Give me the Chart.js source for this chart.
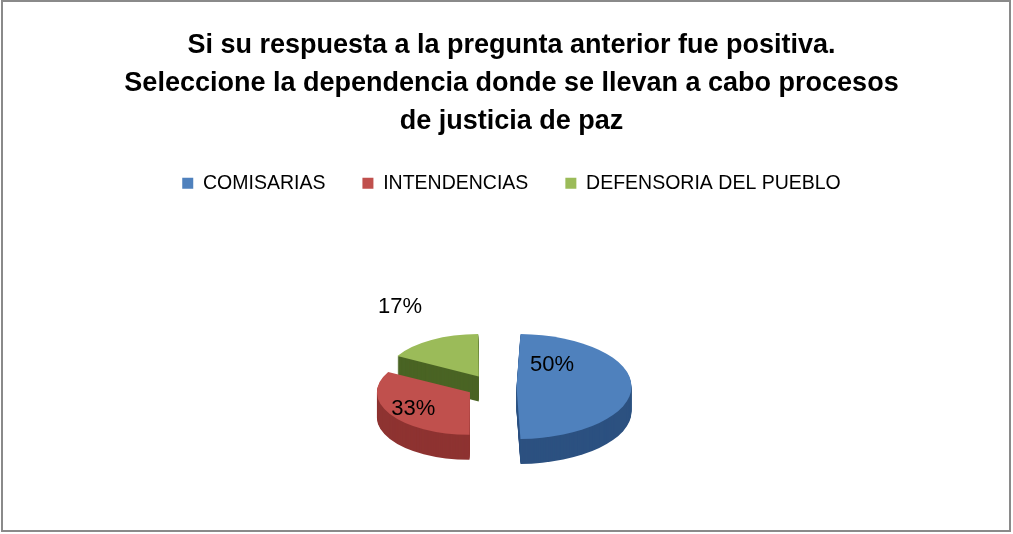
<!DOCTYPE html>
<html>
<head>
<meta charset="utf-8">
<script src="https://cdn.jsdelivr.net/npm/chart.js@4"></script>
<style>
  html, body { margin: 0; padding: 0; background: #fff; }
  #wrap { position: relative; width: 1013px; height: 534px; }
  #frame { position: absolute; left: 1px; top: 0px; width: 1006px; height: 528px;
           border: 2px solid #8a8a8a; pointer-events: none; }
</style>
</head>
<body>
<div id="wrap">
  <canvas id="chart" width="1013" height="534"></canvas>
  <div id="frame"></div>
</div>
<script>
"use strict";

const titleLines = [
  "Si su respuesta a la pregunta anterior fue positiva.",
  "Seleccione la dependencia donde se llevan a cabo procesos",
  "de justicia de paz"
];
const categories = ["COMISARIAS", "INTENDENCIAS", "DEFENSORIA DEL PUEBLO"];
const percentages = [50, 33, 17];
const topColors = ["#4f81bd", "#c0504d", "#9bbb59"];
const sideColors = ["#2c5180", "#8e3331", "#4a6424"];

// tilt + depth to fake the 3D look, pie sits a bit left/below the layout centre
const TILT = 0.457;
const DEPTH = 25;
const SHIFT_X = -20;
const SHIFT_Y = 18;

const pie3d = {
  id: "pie3d",
  beforeDatasetsDraw(chart) {
    const ctx = chart.ctx;
    const arcs = chart.getDatasetMeta(0).data;
    const cx = arcs[0].x, cy = arcs[0].y;
    ctx.save();
    ctx.translate(cx + SHIFT_X, cy + SHIFT_Y);
    ctx.scale(1, TILT);
    ctx.translate(-cx, -cy);
    // side walls: stack darker copies downward
    for (let d = DEPTH; d > 0; d--) {
      arcs.forEach((arc, i) => {
        const bg = arc.options.backgroundColor;
        arc.options.backgroundColor = sideColors[i];
        ctx.save();
        ctx.translate(0, d / TILT);
        arc.draw(ctx);
        ctx.restore();
        arc.options.backgroundColor = bg;
      });
    }
  },
  afterDatasetsDraw(chart) {
    const ctx = chart.ctx;
    ctx.restore();
    const arcs = chart.getDatasetMeta(0).data;
    // label anchors: angle shift (rad) from mid-angle and radius factor
    const anchors = [[-0.92, 0.51], [-0.05, 0.59], [0.06, 1.5]];
    ctx.save();
    ctx.font = "22px 'Liberation Sans', sans-serif";
    ctx.fillStyle = "#000";
    ctx.textAlign = "center";
    ctx.textBaseline = "middle";
    arcs.forEach((arc, i) => {
      const p = arc.getProps(["x", "y", "startAngle", "endAngle", "outerRadius"], true);
      const mid = (p.startAngle + p.endAngle) / 2;
      const off = (arc.options.offset || 0) / 4; // Chart.js v4 draws offset/4
      const ax = p.x + SHIFT_X + Math.cos(mid) * off;
      const ay = p.y + SHIFT_Y + Math.sin(mid) * off * TILT;
      const a = mid + anchors[i][0];
      const r = (p.outerRadius + off) * anchors[i][1];
      const lx = ax + Math.cos(a) * r;
      const ly = ay + Math.sin(a) * r * TILT;
      ctx.fillText(percentages[i] + "%", lx, ly);
    });
    ctx.restore();
  }
};

new Chart(document.getElementById("chart"), {
  type: "pie",
  data: {
    labels: categories,
    datasets: [{
      data: percentages,
      backgroundColor: topColors,
      borderWidth: 0,
      offset: 100
    }]
  },
  plugins: [pie3d],
  options: {
    responsive: false,
    animation: false,
    radius: 90,
    layout: { padding: { left: 10, right: 0, top: 0, bottom: 0 } },
    plugins: {
      tooltip: { enabled: false },
      title: {
        display: true,
        text: titleLines,
        color: "#000",
        font: { family: "'Liberation Sans', sans-serif", size: 27, weight: "bold", lineHeight: 1.4 },
        padding: { top: 27, bottom: -4 }
      },
      legend: {
        position: "top",
        labels: {
          color: "#000",
          boxWidth: 11,
          boxHeight: 11,
          padding: 37,
          font: { family: "'Liberation Sans', sans-serif", size: 19.5 }
        }
      }
    }
  }
});
</script>
</body>
</html>
